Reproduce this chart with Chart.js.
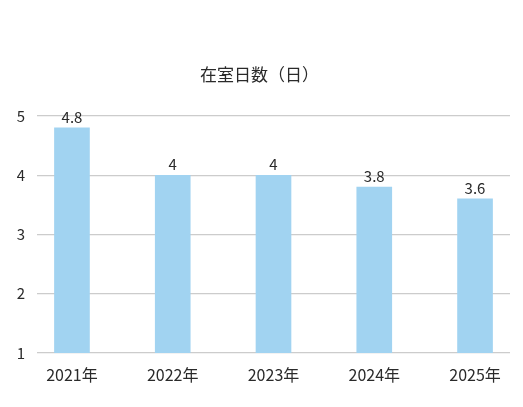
<!DOCTYPE html>
<html>
<head>
<meta charset="utf-8">
<script src="https://cdn.jsdelivr.net/npm/chart.js@4/dist/chart.umd.min.js"></script>
<style>
html,body{margin:0;padding:0;background:#fff;}
#wrap{width:523px;height:407px;}
</style>
</head>
<body>
<div id="wrap"><canvas id="c" width="523" height="407"></canvas></div>
<script>
const categories = ["2021年", "2022年", "2023年", "2024年", "2025年"];
const values = [4.8, 4, 4, 3.8, 3.6];
const valueLabels = ["4.8", "4", "4", "3.8", "3.6"];
const yTicks = [1, 2, 3, 4, 5];
const titleText = "在室日数（日）";

const FONT = '"Noto Sans CJK JP", "Noto Sans", sans-serif';
const TEXT = '#2a2a2a';

const labelPlugin = {
  id: 'valueLabels',
  afterDatasetsDraw(chart) {
    const ctx = chart.ctx;
    const meta = chart.getDatasetMeta(0);
    ctx.save();
    ctx.font = '15px ' + FONT;
    ctx.fillStyle = TEXT;
    ctx.textAlign = 'center';
    ctx.textBaseline = 'alphabetic';
    meta.data.forEach((bar, i) => {
      ctx.fillText(valueLabels[i], bar.x, bar.y - 5);
    });
    ctx.restore();
  }
};

const titlePlugin = {
  id: 'centerTitle',
  afterDraw(chart) {
    const ctx = chart.ctx;
    ctx.save();
    ctx.font = '17px ' + FONT;
    ctx.fillStyle = TEXT;
    ctx.textAlign = 'center';
    ctx.textBaseline = 'middle';
    ctx.fillText(titleText, chart.width / 2 - 2, 75);
    ctx.restore();
  }
};

new Chart(document.getElementById('c'), {
  type: 'bar',
  data: {
    datasets: [{
      data: values.map((v, i) => ({x: i, y: v})),
      backgroundColor: '#a1d3f1',
      borderWidth: 0,
      barThickness: 35
    }]
  },
  options: {
    responsive: false,
    animation: false,
    layout: {padding: {left: 0, right: 13, top: 116, bottom: 0}},
    plugins: {
      legend: {display: false},
      tooltip: {enabled: false},
      title: {display: false}
    },
    scales: {
      x: {
        type: 'linear',
        offset: false,
        min: -0.347,
        max: categories.length - 1 + 0.347,
        grid: {display: false, offset: false},
        border: {display: false},
        ticks: {
          stepSize: 1,
          includeBounds: false,
          autoSkip: false,
          maxRotation: 0,
          color: TEXT,
          font: {family: FONT, size: 16},
          padding: 4,
          callback: (v) => categories[v] !== undefined && Number.isInteger(v) ? categories[v] : ''
        },
        afterFit: (s) => { s.height = 54; }
      },
      y: {
        min: yTicks[0],
        max: yTicks[yTicks.length - 1],
        grid: {color: '#cccccc', lineWidth: 1.3, drawTicks: false},
        border: {display: false},
        ticks: {
          stepSize: 1,
          color: TEXT,
          font: {family: FONT, size: 15},
          padding: 12
        },
        afterFit: (s) => { s.width = 37; }
      }
    }
  },
  plugins: [labelPlugin, titlePlugin]
});
</script>
</body>
</html>
